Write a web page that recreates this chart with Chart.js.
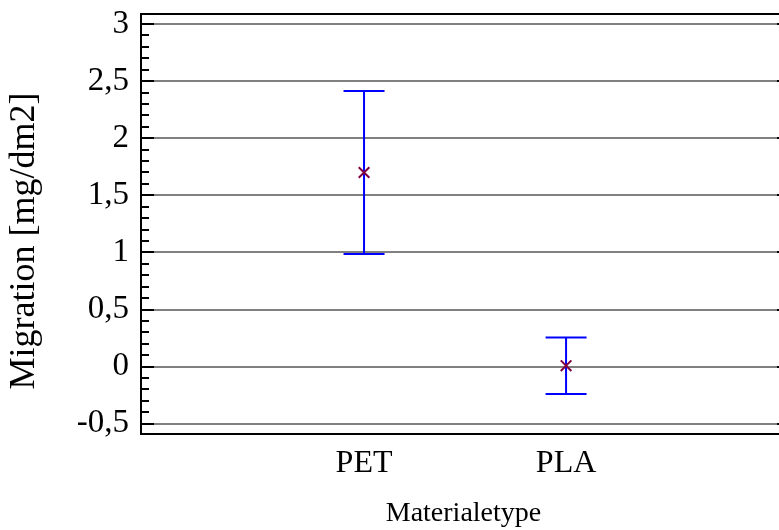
<!DOCTYPE html>
<html>
<head>
<meta charset="utf-8">
<script src="https://cdn.jsdelivr.net/npm/chart.js@4/dist/chart.umd.min.js"></script>
<style>
  html, body { margin: 0; padding: 0; background: #fff; overflow: hidden; }
  #wrap { width: 779px; height: 530px; }
  #chart { display: block; }
</style>
</head>
<body>
<div id="wrap"><canvas id="chart"></canvas></div>
<script>
// Materials and their mean migration with interval limits
const categories = ['PET', 'PLA'];
const means = [1.70, 0.008];
const lowerLimits = [0.986, -0.240];
const upperLimits = [2.413, 0.256];

// Y axis ticks (major), labels use decimal comma
const yTicks = [-0.5, 0, 0.5, 1, 1.5, 2, 2.5, 3];
const yTickLabels = ['-0,5', '0', '0,5', '1', '1,5', '2', '2,5', '3'];
const yMinorStep = 0.1;

const serif = 'Liberation Serif';

// Build chart points from the arrays
const xPos = categories.map((c, i) => i + 1);
const stemPoints = [];
const capPoints = [];
xPos.forEach((x, i) => {
    stemPoints.push({ x: x, y: lowerLimits[i] }, { x: x, y: upperLimits[i] }, { x: x, y: null });
    capPoints.push({ x: x, y: lowerLimits[i] }, { x: x, y: upperLimits[i] });
});
const meanPoints = xPos.map((x, i) => ({ x: x, y: means[i] }));

// no label overhang padding, the plot box is placed by hand
function noPadding(scale) {
    scale.paddingTop = 0;
    scale.paddingBottom = 0;
    scale.paddingLeft = 0;
    scale.paddingRight = 0;
}

// Frame, inward ticks and y title
const framePlugin = {
    id: 'frame',
    afterDraw(chart) {
        const { ctx, chartArea: a } = chart;
        const yScale = chart.scales.y;
        ctx.save();
        ctx.strokeStyle = '#000';
        ctx.lineWidth = 2;

        // minor ticks
        const start = Math.ceil(yScale.min / yMinorStep);
        const end = Math.floor(yScale.max / yMinorStep);
        for (let k = start; k <= end; k++) {
            const py = Math.round(yScale.getPixelForValue(k * yMinorStep));
            ctx.beginPath();
            ctx.moveTo(a.left, py);
            ctx.lineTo(a.left + 8, py);
            ctx.stroke();
        }
        // major ticks
        yTicks.forEach(v => {
            const py = Math.round(yScale.getPixelForValue(v));
            ctx.beginPath();
            ctx.moveTo(a.left, py);
            ctx.lineTo(a.left + 13, py);
            ctx.moveTo(a.right - 2, py);
            ctx.lineTo(a.right, py);
            ctx.stroke();
        });

        // frame: top, left, bottom
        ctx.beginPath();
        ctx.moveTo(a.right, a.top);
        ctx.lineTo(a.left, a.top);
        ctx.lineTo(a.left, a.bottom);
        ctx.lineTo(a.right, a.bottom);
        ctx.stroke();

        // y axis title
        ctx.translate(25, 241);
        ctx.rotate(-Math.PI / 2);
        ctx.font = '36px "' + serif + '"';
        ctx.fillStyle = '#000';
        ctx.textAlign = 'center';
        ctx.textBaseline = 'middle';
        ctx.fillText('Migration [mg/dm2]', 0, 0);
        ctx.restore();
    }
};

const ctx = document.getElementById('chart');
new Chart(ctx, {
    type: 'scatter',
    data: {
        datasets: [
            {
                label: 'Mean',
                data: meanPoints,
                pointStyle: 'crossRot',
                pointRadius: 7.5,
                borderColor: '#800040',
                borderWidth: 2,
                backgroundColor: '#800040'
            },
            {
                label: 'Caps',
                data: capPoints,
                pointStyle: 'line',
                pointRadius: 20.5,
                borderColor: '#0000ff',
                borderWidth: 2
            },
            {
                label: 'Interval',
                data: stemPoints,
                showLine: true,
                spanGaps: false,
                pointRadius: 0,
                borderColor: '#0000ff',
                borderWidth: 2
            }
        ]
    },
    options: {
        responsive: true,
        maintainAspectRatio: false,
        animation: false,
        layout: { autoPadding: false, padding: { top: 14, right: 0, left: 0, bottom: 0 } },
        plugins: {
            legend: { display: false },
            tooltip: { enabled: false }
        },
        scales: {
            x: {
                type: 'linear',
                min: -0.104,
                max: 3.054,
                afterBuildTicks: (scale) => {
                    scale.ticks = xPos.map(v => ({ value: v }));
                },
                afterFit: (scale) => { scale.height = 96; noPadding(scale); },
                grid: { display: false, drawTicks: false },
                border: { display: false },
                ticks: {
                    padding: 10,
                    color: '#000',
                    font: { family: serif, size: 32 },
                    callback: (value) => categories[value - 1]
                },
                title: {
                    display: true,
                    text: '\u00a0Materialetype',
                    color: '#000',
                    font: { family: serif, size: 28 },
                    padding: { top: 0, bottom: 0 }
                }
            },
            y: {
                min: -0.59,
                max: 3.088,
                afterBuildTicks: (scale) => {
                    scale.ticks = yTicks.map(v => ({ value: v }));
                },
                afterFit: (scale) => { scale.width = 141; noPadding(scale); },
                grid: { color: '#808080', lineWidth: 2, drawTicks: false },
                border: { display: false },
                ticks: {
                    padding: 12,
                    color: '#000',
                    font: { family: serif, size: 33 },
                    callback: (value) => yTickLabels[yTicks.indexOf(value)]
                }
            }
        }
    },
    plugins: [framePlugin]
});
</script>
</body>
</html>
